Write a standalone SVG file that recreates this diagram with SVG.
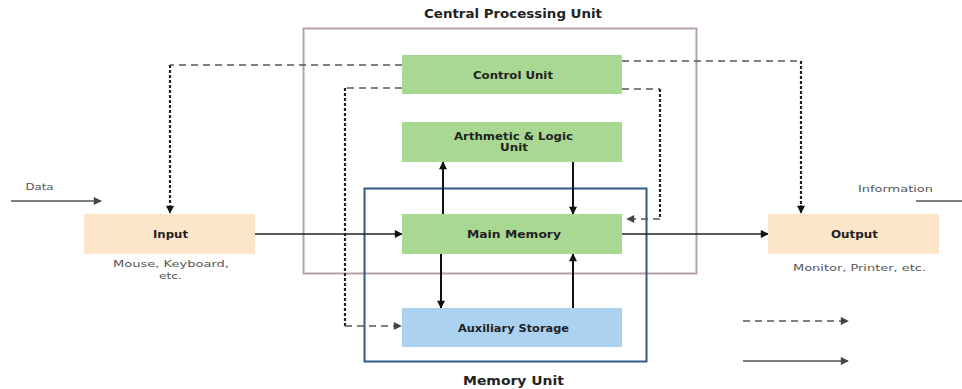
<svg xmlns="http://www.w3.org/2000/svg" width="962" height="389" viewBox="0 0 962 389">
  <style>
    .box-green { fill: #a9d892; }
    .box-blue { fill: #acd2f2; }
    .box-peach { fill: #fde5ca; }
    .lbl { font-family: "DejaVu Sans", "Liberation Sans", sans-serif; font-weight: bold; font-size: 10px; fill: #222; text-anchor: middle; }
    .title { font-family: "DejaVu Sans", "Liberation Sans", sans-serif; font-weight: bold; font-size: 11.5px; fill: #222; text-anchor: middle; }
    .note { font-family: "DejaVu Sans", "Liberation Sans", sans-serif; font-size: 9.5px; fill: #555; text-anchor: middle; }
    .solid { fill: none; stroke: #111; stroke-width: 2; }
    .thin { fill: none; stroke: #222; stroke-width: 1.3; }
    .gray { fill: none; stroke: #555; stroke-width: 1.5; }
    .dash { fill: none; stroke: #555; stroke-width: 1.6; stroke-dasharray: 7 5; }
    .dot { fill: none; stroke: #222; stroke-width: 2.2; stroke-dasharray: 3 2; }
  </style>
  <defs>
    <marker id="arr" viewBox="0 0 10 10" refX="9" refY="5" markerWidth="9" markerHeight="8" markerUnits="userSpaceOnUse" orient="auto">
      <path d="M0,0 L10,5 L0,10 z" fill="#111"/>
    </marker>
    <marker id="arrg" viewBox="0 0 10 10" refX="9" refY="5" markerWidth="9" markerHeight="8" markerUnits="userSpaceOnUse" orient="auto">
      <path d="M0,0 L10,5 L0,10 z" fill="#444"/>
    </marker>
  </defs>

  <!-- enclosing units -->
  <g id="cpu">
    <rect x="303.5" y="28.5" width="393" height="245" fill="none" stroke="#b5a3a1" stroke-width="2"/>
    <text class="title" x="513" y="18" textLength="178" lengthAdjust="spacingAndGlyphs">Central Processing Unit</text>
  </g>
  <g id="memory-unit">
    <rect x="364.5" y="188.5" width="282" height="173" fill="none" stroke="#2e5a88" stroke-width="2"/>
    <text class="title" x="513.5" y="385" style="font-size:12px" textLength="101" lengthAdjust="spacingAndGlyphs">Memory Unit</text>
  </g>

  <!-- connectors -->
  <g id="connectors">
    <!-- control signals -->
    <path class="dash" d="M402,65 H170"/>
    <path class="dot" d="M170,65 V205"/>
    <path class="gray" d="M170,205 V213" marker-end="url(#arr)"/>

    <path class="dash" d="M402,88 H345"/>
    <path class="dot" d="M345,88 V326"/>
    <path class="dash" d="M345,326 H401" marker-end="url(#arrg)"/>

    <path class="dash" d="M622,61 H801"/>
    <path class="dot" d="M801,61 V205"/>
    <path class="gray" d="M801,205 V213" marker-end="url(#arr)"/>

    <path class="dash" d="M622,89 H660"/>
    <path class="dot" d="M660,89 V219"/>
    <path class="dash" d="M660,219 H627" marker-end="url(#arrg)"/>

    <!-- data paths -->
    <path class="solid" d="M443,214 V162" marker-end="url(#arr)"/>
    <path class="solid" d="M573,161 V214" marker-end="url(#arr)"/>
    <path class="solid" d="M441,254 V308" marker-end="url(#arr)"/>
    <path class="solid" d="M573,308 V254" marker-end="url(#arr)"/>
    <path class="thin" d="M255,234 H402" marker-end="url(#arr)"/>
    <path class="thin" d="M622,234 H768" marker-end="url(#arr)"/>

    <!-- external flows -->
    <path class="gray" d="M11,201 H101" marker-end="url(#arrg)"/>
    <path class="gray" d="M916,201 H962"/>

    <!-- legend -->
    <path class="dash" d="M743,321 H848" marker-end="url(#arrg)"/>
    <path class="gray" d="M743,361 H848" marker-end="url(#arrg)"/>
  </g>

  <!-- nodes -->
  <g id="control-unit">
    <rect class="box-green" x="402" y="55" width="220" height="39"/>
    <text class="lbl" x="513" y="78.5" textLength="80" lengthAdjust="spacingAndGlyphs">Control Unit</text>
  </g>
  <g id="alu">
    <rect class="box-green" x="402" y="122" width="220" height="40"/>
    <text class="lbl" x="513.5" y="139.5" textLength="119" lengthAdjust="spacingAndGlyphs">Arthmetic &amp; Logic</text>
    <text class="lbl" x="514" y="151" textLength="28" lengthAdjust="spacingAndGlyphs">Unit</text>
  </g>
  <g id="main-memory">
    <rect class="box-green" x="402" y="214" width="220" height="40"/>
    <text class="lbl" x="514" y="238" textLength="94" lengthAdjust="spacingAndGlyphs">Main Memory</text>
  </g>
  <g id="auxiliary-storage">
    <rect class="box-blue" x="402" y="308" width="220" height="39"/>
    <text class="lbl" x="513.5" y="331.5" textLength="111" lengthAdjust="spacingAndGlyphs">Auxiliary Storage</text>
  </g>
  <g id="input">
    <rect class="box-peach" x="84" y="214" width="171" height="40"/>
    <text class="lbl" x="170.5" y="238" textLength="35" lengthAdjust="spacingAndGlyphs">Input</text>
    <text class="note" x="171" y="267" textLength="116" lengthAdjust="spacingAndGlyphs">Mouse, Keyboard,</text>
    <text class="note" x="170.5" y="279" textLength="23" lengthAdjust="spacingAndGlyphs">etc.</text>
  </g>
  <g id="output">
    <rect class="box-peach" x="768" y="214" width="171" height="40"/>
    <text class="lbl" x="854.5" y="238" textLength="47" lengthAdjust="spacingAndGlyphs">Output</text>
    <text class="note" x="859.5" y="271" textLength="133" lengthAdjust="spacingAndGlyphs">Monitor, Printer, etc.</text>
  </g>
  <g id="flow-labels">
    <text class="note" x="39.5" y="190" textLength="28" lengthAdjust="spacingAndGlyphs">Data</text>
    <text class="note" x="895.5" y="192" textLength="75" lengthAdjust="spacingAndGlyphs">Information</text>
  </g>
</svg>
